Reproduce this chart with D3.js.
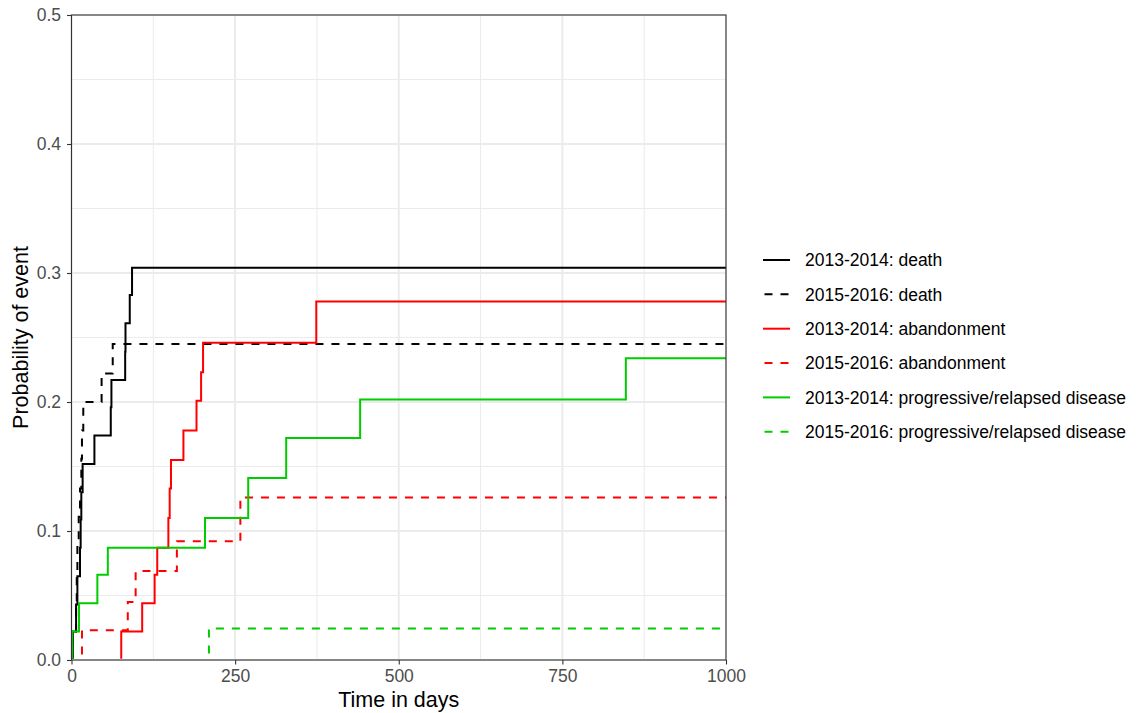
<!DOCTYPE html>
<html>
<head>
<meta charset="utf-8">
<script src="https://cdn.jsdelivr.net/npm/d3@7/dist/d3.min.js"></script>
<style>
  html, body { margin: 0; padding: 0; background: #ffffff; }
  svg { display: block; font-family: "Liberation Sans", Arial, Helvetica, sans-serif; }
</style>
</head>
<body>
<svg id="chart" width="1137" height="713"></svg>
<script>
// Cumulative incidence of competing events, by treatment period
const deathTimes1314 = [2, 7, 9, 13, 14, 15, 17, 35, 60, 61, 82, 82.5, 89, 92.5];
const deathCif1314   = [0.022, 0.043, 0.065, 0.087, 0.109, 0.130, 0.152, 0.174, 0.196, 0.217, 0.239, 0.261, 0.283, 0.304];

const deathTimes1516 = [1, 7, 8, 9, 11, 13, 15, 16, 18, 46, 63];
const deathCif1516   = [0.022, 0.044, 0.067, 0.089, 0.111, 0.133, 0.156, 0.178, 0.200, 0.222, 0.245];

const abandonTimes1314 = [76, 108, 127, 131, 148, 150, 152, 171, 191, 198, 201, 374];
const abandonCif1314   = [0.022, 0.044, 0.066, 0.087, 0.110, 0.133, 0.155, 0.178, 0.201, 0.223, 0.246, 0.278];

const abandonTimes1516 = [16, 86, 98, 161, 258];
const abandonCif1516   = [0.023, 0.045, 0.069, 0.092, 0.126];

const progTimes1314 = [1, 11.5, 39.5, 55.5, 204, 270, 328, 441, 847];
const progCif1314   = [0.022, 0.044, 0.066, 0.087, 0.110, 0.141, 0.172, 0.202, 0.234];

const progTimes1516 = [210];
const progCif1516   = [0.0245];

const seriesLabels = [
  "2013-2014: death",
  "2015-2016: death",
  "2013-2014: abandonment",
  "2015-2016: abandonment",
  "2013-2014: progressive/relapsed disease",
  "2015-2016: progressive/relapsed disease"
];
const seriesColors = ["#000000", "#000000", "#ff0000", "#ff0000", "#00cd00", "#00cd00"];
const seriesDashed = [false, true, false, true, false, true];

const xTicks = [0, 250, 500, 750, 1000];
const yTicks = [0, 0.1, 0.2, 0.3, 0.4, 0.5];
const xMinor = [125, 375, 625, 875];
const yMinor = [0.05, 0.15, 0.25, 0.35, 0.45];

const maxTime = 1000;

const seriesData = [
  [deathTimes1314, deathCif1314],
  [deathTimes1516, deathCif1516],
  [abandonTimes1314, abandonCif1314],
  [abandonTimes1516, abandonCif1516],
  [progTimes1314, progCif1314],
  [progTimes1516, progCif1516]
];

const svg = d3.select("#chart");
const panel = { left: 71.5, right: 726, top: 15, bottom: 660 };

const x = d3.scaleLinear().domain([0, 1000]).range([panel.left, panel.right]);
const y = d3.scaleLinear().domain([0, 0.5]).range([panel.bottom, panel.top]);

// panel background + grid
svg.append("rect")
  .attr("x", panel.left).attr("y", panel.top)
  .attr("width", panel.right - panel.left).attr("height", panel.bottom - panel.top)
  .attr("fill", "#ffffff");

const grid = svg.append("g");
grid.selectAll(".xminor").data(xMinor).join("line")
  .attr("x1", d => x(d)).attr("x2", d => x(d))
  .attr("y1", panel.top).attr("y2", panel.bottom)
  .attr("stroke", "#ebebeb").attr("stroke-width", 1);
grid.selectAll(".yminor").data(yMinor).join("line")
  .attr("y1", d => y(d)).attr("y2", d => y(d))
  .attr("x1", panel.left).attr("x2", panel.right)
  .attr("stroke", "#ebebeb").attr("stroke-width", 1);
grid.selectAll(".xmajor").data(xTicks).join("line")
  .attr("x1", d => x(d)).attr("x2", d => x(d))
  .attr("y1", panel.top).attr("y2", panel.bottom)
  .attr("stroke", "#ebebeb").attr("stroke-width", 2);
grid.selectAll(".ymajor").data(yTicks).join("line")
  .attr("y1", d => y(d)).attr("y2", d => y(d))
  .attr("x1", panel.left).attr("x2", panel.right)
  .attr("stroke", "#ebebeb").attr("stroke-width", 2);

// clip curves just inside the panel so the run along zero stays under the border
svg.append("clipPath").attr("id", "panel-clip")
  .append("rect")
  .attr("x", panel.left + 0.5).attr("y", panel.top)
  .attr("width", panel.right - panel.left).attr("height", panel.bottom - panel.top - 1.2);

const line = d3.line()
  .x(d => x(d[0]))
  .y(d => y(d[1]))
  .curve(d3.curveStepAfter);

const curves = svg.append("g").attr("clip-path", "url(#panel-clip)");
seriesData.forEach(([times, cif], i) => {
  const pts = [[0, 0]];
  times.forEach((t, j) => pts.push([t, cif[j]]));
  pts.push([maxTime, cif[cif.length - 1]]);
  curves.append("path")
    .datum(pts)
    .attr("d", line)
    .attr("fill", "none")
    .attr("stroke", seriesColors[i])
    .attr("stroke-width", 2)
    .attr("stroke-dasharray", seriesDashed[i] ? "8,8" : null);
});

// panel border
svg.append("rect")
  .attr("x", panel.left).attr("y", panel.top)
  .attr("width", panel.right - panel.left).attr("height", panel.bottom - panel.top)
  .attr("fill", "none").attr("stroke", "#333333").attr("stroke-width", 1.1);

// axes
const xAxis = svg.append("g")
  .attr("transform", `translate(0,${panel.bottom})`)
  .call(d3.axisBottom(x).tickValues(xTicks).tickFormat(d3.format("d")).tickSize(4.5).tickPadding(5));
const yAxis = svg.append("g")
  .attr("transform", `translate(${panel.left},0)`)
  .call(d3.axisLeft(y).tickValues(yTicks).tickFormat(d3.format(".1f")).tickSize(4.5).tickPadding(6));

[xAxis, yAxis].forEach(a => {
  a.select(".domain").remove();
  a.selectAll(".tick line").attr("stroke", "#333333").attr("stroke-width", 1.1);
  a.selectAll(".tick text")
    .attr("fill", "#4d4d4d")
    .style("font-size", "17.5px")
    .style("font-family", "'Liberation Sans', Arial, Helvetica, sans-serif");
});

// axis titles
svg.append("text")
  .attr("x", (panel.left + panel.right) / 2)
  .attr("y", 706.5)
  .attr("text-anchor", "middle")
  .attr("fill", "#000000")
  .style("font-size", "21.5px")
  .text("Time in days");

svg.append("text")
  .attr("transform", `translate(28,${(panel.top + panel.bottom) / 2}) rotate(-90)`)
  .attr("text-anchor", "middle")
  .attr("fill", "#000000")
  .style("font-size", "21.5px")
  .text("Probability of event");

// legend
const legend = svg.append("g");
const legendTop = 260, legendStep = 34.35;
seriesLabels.forEach((label, i) => {
  const cy = legendTop + i * legendStep;
  legend.append("line")
    .attr("x1", 763).attr("x2", 790)
    .attr("y1", cy).attr("y2", cy)
    .attr("stroke", seriesColors[i])
    .attr("stroke-width", 2)
    .attr("stroke-dasharray", seriesDashed[i] ? "8,8" : null)
    .attr("stroke-dashoffset", seriesDashed[i] ? -1.5 : null);
  legend.append("text")
    .attr("x", 805)
    .attr("y", cy + 6.3)
    .attr("fill", "#000000")
    .style("font-size", "17.5px")
    .text(label);
});
</script>
</body>
</html>
